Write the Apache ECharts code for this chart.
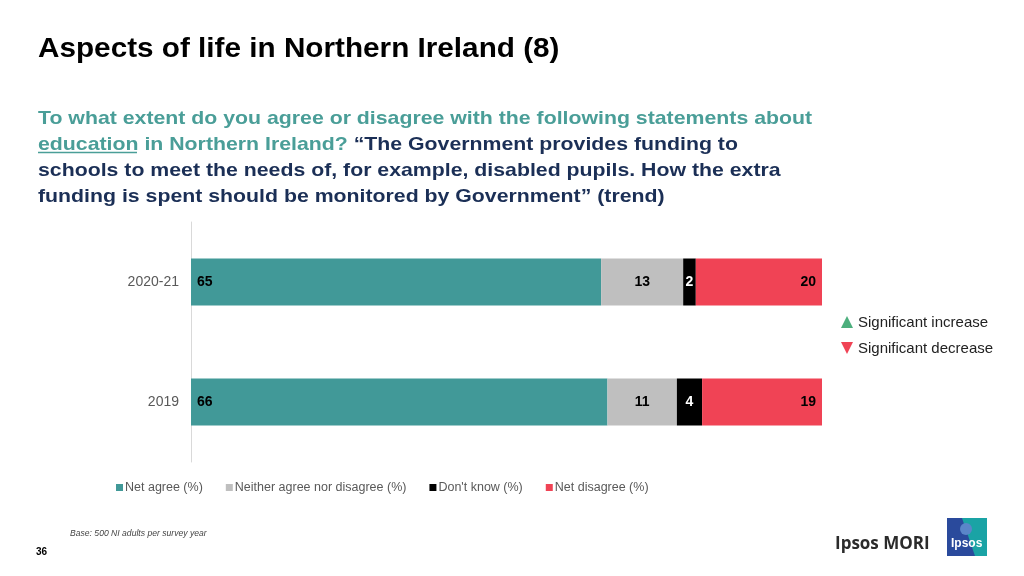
<!DOCTYPE html>
<html>
<head>
<meta charset="utf-8">
<script src="https://cdn.jsdelivr.net/npm/echarts@6/dist/echarts.min.js"></script>
<style>html,body{margin:0;padding:0;background:#fff;}#c{width:1024px;height:576px;}</style>
</head>
<body>
<div id="c"></div>
<script>
const categories = ['2019', '2020-21'];
const seriesNames = ['Net agree (%)', 'Neither agree nor disagree (%)', "Don't know (%)", 'Net disagree (%)'];
const netAgree = [66, 65];
const neither = [11, 13];
const dontKnow = [4, 2];
const netDisagree = [19, 20];

const colors = ['#419998', '#bfbfbf', '#000000', '#f04355'];
const labelPos = ['insideLeft', 'inside', 'inside', 'insideRight'];
const labelColor = ['#000', '#000', '#fff', '#000'];
const values = [netAgree, neither, dontKnow, netDisagree];
const numFont = '"Liberation Sans Narrow", "Arial Narrow", "Liberation Sans", Arial, sans-serif';
const font = '"Liberation Sans", Arial, sans-serif';

const chart = echarts.init(document.getElementById('c'));
chart.setOption({
  animation: false,
  textStyle: { fontFamily: font },
  grid: { left: 191, right: 202, top: 222, bottom: 114 },
  xAxis: { type: 'value', min: 0, max: 100, show: false },
  yAxis: {
    type: 'category', data: categories,
    axisLine: { show: true, lineStyle: { color: '#d9d9d9' } },
    axisTick: { show: false },
    axisLabel: { color: '#595959', fontSize: 14, margin: 12 }
  },
  legend: {
    left: 111, top: 476, itemWidth: 7, itemHeight: 7, itemGap: 23,
    icon: 'rect',
    textStyle: { color: '#595959', fontSize: 12.5, padding: [0, 0, 0, -3] },
    data: seriesNames
  },
  series: seriesNames.map((n, i) => ({
    name: n, type: 'bar', stack: 'all', barWidth: 47,
    data: values[i],
    itemStyle: { color: colors[i] },
    label: {
      show: true, position: labelPos[i], color: labelColor[i],
      fontFamily: numFont, fontWeight: 'bold', fontSize: 14,
      distance: 6
    }
  })),
  graphic: [
    { type: 'text', x: 38, y: 36, scaleX: 1.1, style: { text: 'Aspects of life in Northern Ireland (8)', font: 'bold 27px ' + font, fill: '#000', verticalAlign: 'top' } },
    { type: 'text', x: 38, y: 106, scaleX: 1.12, style: {
      verticalAlign: 'top',
      text: '{t|To what extent do you agree or disagree with the following statements about}\n{t|education in Northern Ireland? }{n|“The Government provides funding to}\n{n|schools to meet the needs of, for example, disabled pupils. How the extra}\n{n|funding is spent should be monitored by Government” (trend)}',
      rich: {
        t: { fill: '#4a9e98', font: 'bold 19px ' + font, lineHeight: 26 },
        n: { fill: '#1b2f56', font: 'bold 19px ' + font, lineHeight: 26 }
      }
    } },
    { type: 'line', shape: { x1: 38, y1: 152.5, x2: 137, y2: 152.5 }, style: { stroke: '#4a9e98', lineWidth: 1.5 } },
    { type: 'polygon', shape: { points: [[847, 316], [841, 328], [853, 328]] }, style: { fill: '#4caf7d' } },
    { type: 'polygon', shape: { points: [[841, 342], [853, 342], [847, 354]] }, style: { fill: '#f04355' } },
    { type: 'text', x: 858, y: 315, style: { text: 'Significant increase', font: '15px ' + font, fill: '#222', verticalAlign: 'top' } },
    { type: 'text', x: 858, y: 341, style: { text: 'Significant decrease', font: '15px ' + font, fill: '#222', verticalAlign: 'top' } },
    { type: 'text', x: 70, y: 529, style: { text: 'Base: 500 NI adults per survey year', font: 'italic 8.6px ' + font, fill: '#444', verticalAlign: 'top' } },
    { type: 'text', x: 36, y: 547, style: { text: '36', font: 'bold 10px ' + font, fill: '#000', verticalAlign: 'top' } },
    { type: 'text', x: 835, y: 536, style: { text: 'Ipsos MORI', font: 'bold 17px "Open Sans", ' + font, fill: '#2b2b2b', verticalAlign: 'top' } },
    { type: 'rect', shape: { x: 947, y: 518, width: 40, height: 38 }, style: { fill: '#2a4a9c' } },
    { type: 'polygon', shape: { points: [[962, 518], [987, 518], [987, 556], [975, 556]] }, style: { fill: '#1aa3a5' } },
    { type: 'circle', shape: { cx: 966, cy: 529, r: 6 }, style: { fill: '#5a86c9' } },
    { type: 'text', x: 951, y: 538, style: { text: 'Ipsos', font: 'bold 12px ' + font, fill: '#fff', verticalAlign: 'top' } }
  ]
});
</script>
</body>
</html>
